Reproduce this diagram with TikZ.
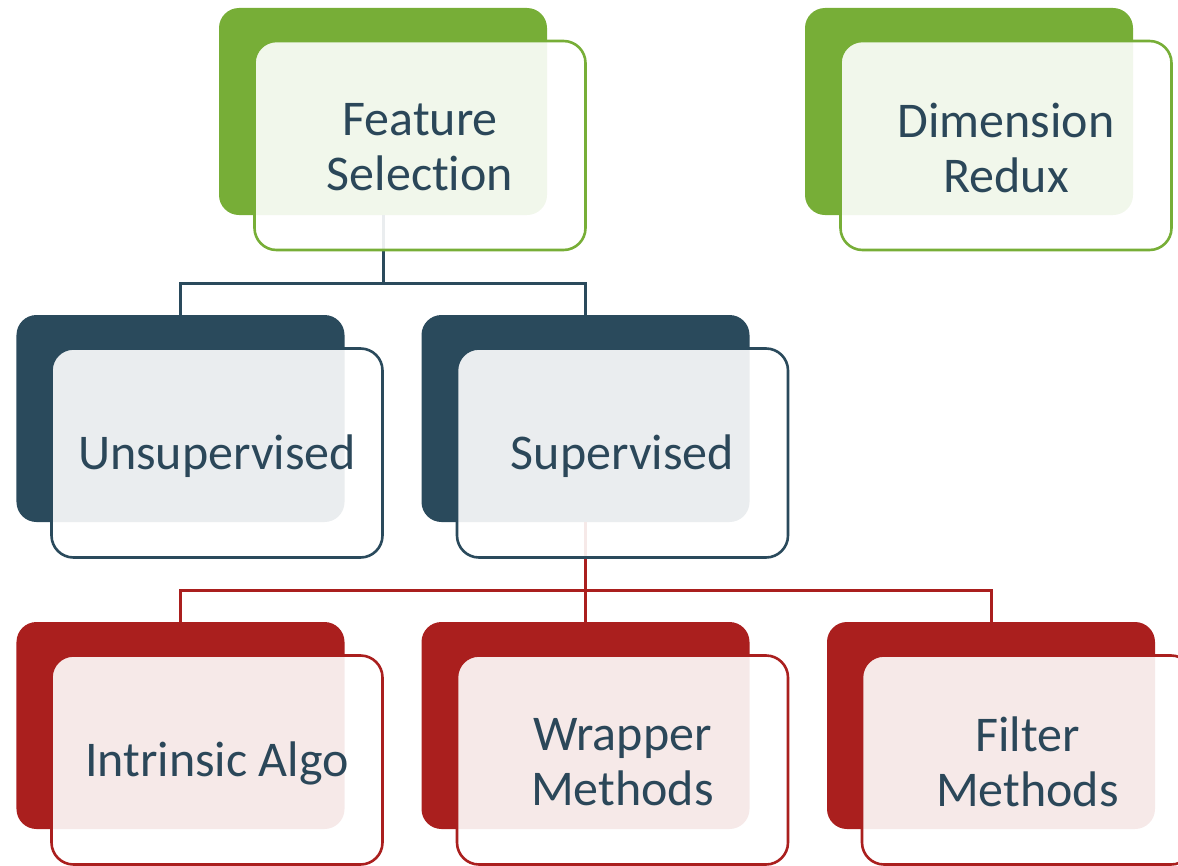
\documentclass[tikz,border=0pt]{standalone}
\usepackage{fontspec}
\setmainfont[Ligatures=NoCommon]{Carlito}
\definecolor{leafgreen}{HTML}{77AE37}
\definecolor{slateblue}{HTML}{2A4A5C}
\definecolor{brickred}{HTML}{AA1F1E}
\definecolor{labelink}{HTML}{2B4759}
\tikzset{
  backcard/.style={rectangle, rounded corners=20bp, fill=#1, draw=none,
    minimum width=328bp, minimum height=207bp, inner sep=0pt},
  frontcard/.style={rectangle, rounded corners=22bp, fill=white, fill opacity=0.9,
    draw=#1, line width=2.6bp, minimum width=331bp, minimum height=209bp},
  cardtext/.style={align=center, text=labelink, inner sep=0pt,
    font=\fontsize{50bp}{55bp}\selectfont},
  linkline/.style={draw=#1, line width=3bp},
}
\begin{document}
\begin{tikzpicture}[x=1bp, y=-1bp]
\clip (0,0) rectangle (1178,866);
% back cards
\node[backcard=leafgreen] (fsb) at (383,111.5) {};
\node[backcard=leafgreen] (drb) at (969,111.5) {};
\node[backcard=slateblue] (unb) at (180.5,418.5) {};
\node[backcard=slateblue] (spb) at (585.5,418.5) {};
\node[backcard=brickred] (inb) at (180.5,725.5) {};
\node[backcard=brickred] (wrb) at (585.5,725.5) {};
\node[backcard=brickred] (fib) at (991,725.5) {};
% tree links
\coordinate (j1) at (383,283);
\coordinate (j2) at (585.5,590);
\draw[linkline=slateblue] (fsb.south) -- (j1) -| (unb.north);
\draw[linkline=slateblue] (j1) -| (spb.north);
\draw[linkline=brickred] (spb.south) -- (j2) -| (inb.north);
\draw[linkline=brickred] (j2) -- (wrb.north);
\draw[linkline=brickred] (j2) -| (fib.north);
% front cards
\node[frontcard=leafgreen] (fs) at (420,145.5) {};
\node[frontcard=leafgreen] (dr) at (1006,145.5) {};
\node[frontcard=slateblue] (un) at (217,453) {};
\node[frontcard=slateblue] (sp) at (622.5,453) {};
\node[frontcard=brickred] (in) at (217,760) {};
\node[frontcard=brickred] (wr) at (622.5,760) {};
\node[frontcard=brickred] (fi) at (1027.5,760) {};
% labels
\node[cardtext] (fst) at ([yshift=-2bp]fs.center) {Feature\\Selection};
\node[cardtext] (drt) at ([yshift=-2bp]dr.center) {Dimension\\Redux};
\node[cardtext] (unt) at ([yshift=-3bp]un.center) {Unsupervised};
\node[cardtext] (spt) at ([yshift=-3bp]sp.center) {Supervised};
\node[cardtext] (int) at ([yshift=-3bp]in.center) {Intrinsic Algo};
\node[cardtext] (wrt) at ([yshift=-2bp]wr.center) {Wrapper\\Methods};
\node[cardtext] (fit) at ([yshift=-2bp]fi.center) {Filter\\Methods};
\end{tikzpicture}
\end{document}
